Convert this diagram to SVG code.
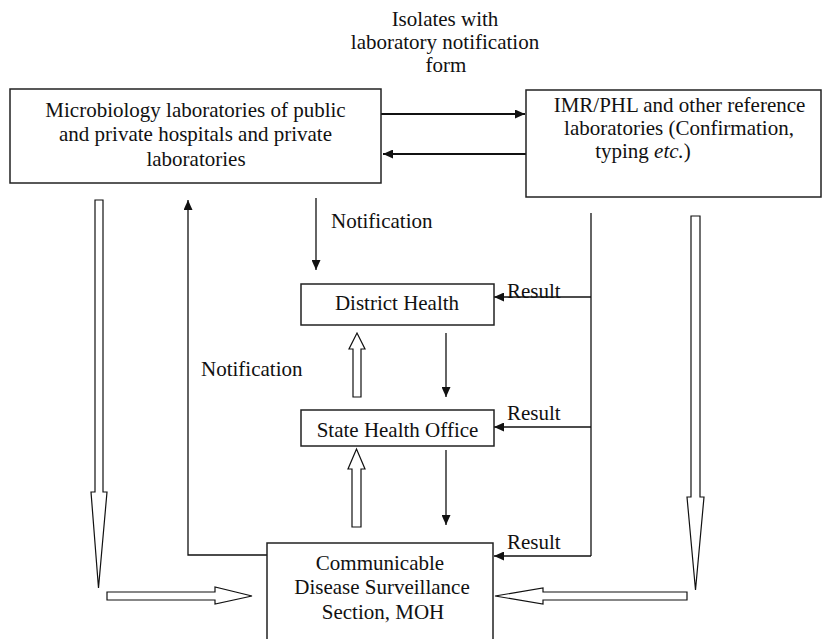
<svg xmlns="http://www.w3.org/2000/svg" width="824" height="639" viewBox="0 0 824 639">
<style>
  .box { fill: #fff; stroke: #222; stroke-width: 1.5; }
  .t { font-family: 'Liberation Serif', 'Times New Roman', Times, Tinos, 'DejaVu Serif', serif; font-size: 21px; fill: #111; }
  .m { text-anchor: middle; }
  .ln { fill: none; stroke: #111; stroke-width: 1.3; }
  .thick { stroke-width: 2; }
  .hollow { fill: #fff; stroke: #111; stroke-width: 1.2; stroke-linejoin: miter; }
</style>
<defs>
  <marker id="ah" markerUnits="userSpaceOnUse" markerWidth="11" markerHeight="9" refX="10" refY="4.5" orient="auto">
    <path d="M0,0 L10,4.5 L0,9 z" fill="#111"/>
  </marker>
</defs>
<rect width="824" height="639" fill="#fff"/>

<g id="label-isolates">
  <text class="t m" x="445" y="26">Isolates with</text>
  <text class="t m" x="445" y="49">laboratory notification</text>
  <text class="t m" x="446" y="72">form</text>
</g>

<g id="connectors">
  <line class="ln thick" x1="381" y1="114" x2="525" y2="114" marker-end="url(#ah)"/>
  <line class="ln thick" x1="526" y1="154" x2="383" y2="154" marker-end="url(#ah)"/>
  <polyline class="ln" points="268,555 188,555 188,200" marker-end="url(#ah)"/>
  <line class="ln" x1="316" y1="198" x2="316" y2="270" marker-end="url(#ah)"/>
  <line class="ln" x1="446" y1="333" x2="446" y2="397" marker-end="url(#ah)"/>
  <line class="ln" x1="446" y1="450" x2="446" y2="525" marker-end="url(#ah)"/>
  <line class="ln" x1="591" y1="213" x2="591" y2="556"/>
  <line class="ln" x1="591" y1="297" x2="494" y2="297" marker-end="url(#ah)"/>
  <line class="ln" x1="591" y1="427" x2="494" y2="427" marker-end="url(#ah)"/>
  <line class="ln" x1="591" y1="556" x2="494" y2="556" marker-end="url(#ah)"/>
  <polygon class="hollow" points="95,200 103,200 103,492 107,492 98.5,588 91,492 95,492"/>
  <polygon class="hollow" points="107,592 215,592 215,587 252,596 215,604 215,600 107,600"/>
  <polygon class="hollow" points="691,216 700,216 700,497 704,497 695.5,590 687,497 691,497"/>
  <polygon class="hollow" points="687,592 543,592 543,588 495,596 543,604 543,600 687,600"/>
  <polygon class="hollow" points="353,397 361,397 361,349 365,349 357,333 349,349 353,349"/>
  <polygon class="hollow" points="352,527 361,527 361,469 365,469 356.5,449 348,469 352,469"/>
  <text class="t" x="331" y="228">Notification</text>
  <text class="t" x="201" y="376">Notification</text>
  <text class="t" x="507" y="298">Result</text>
  <text class="t" x="507" y="420">Result</text>
  <text class="t" x="507" y="549">Result</text>
</g>

<g id="node-microbiology">
  <rect class="box" x="10" y="89" width="371" height="94"/>
  <text class="t m" x="195.5" y="117">Microbiology laboratories of public</text>
  <text class="t m" x="195.5" y="141">and private hospitals and private</text>
  <text class="t m" x="196" y="166">laboratories</text>
</g>

<g id="node-imr">
  <rect class="box" x="526" y="90" width="295" height="107"/>
  <text class="t m" x="679.5" y="112">IMR/PHL and other reference</text>
  <text class="t m" x="679" y="135">laboratories (Confirmation,</text>
  <text class="t m" x="643" y="158">typing <tspan font-style="italic">etc.</tspan>)</text>
</g>

<g id="node-district">
  <rect class="box" x="301" y="284" width="193" height="41"/>
  <text class="t m" x="397" y="310">District Health</text>
</g>

<g id="node-state">
  <rect class="box" x="301" y="410" width="193" height="36"/>
  <text class="t m" x="397.5" y="437">State Health Office</text>
</g>

<g id="node-cds">
  <rect class="box" x="267" y="543" width="226" height="100"/>
  <text class="t m" x="380" y="570">Communicable</text>
  <text class="t m" x="382" y="594">Disease Surveillance</text>
  <text class="t m" x="383" y="619">Section, MOH</text>
</g>
</svg>
